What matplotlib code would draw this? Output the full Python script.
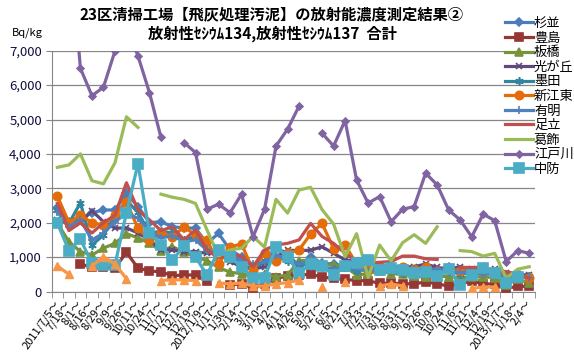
import numpy as np
import matplotlib
matplotlib.use('Agg')
from matplotlib import pyplot as plt
from matplotlib.ticker import FuncFormatter

# 日本語フォント
plt.rcParams['font.family'] = ['Noto Sans CJK JP', 'DejaVu Sans']

dates = ['2011/7/5～', '7/18～', '8/1～', '8/16～', '8/29～', '9/9～', '9/26～', '10/11～',
         '10/24～', '11/7～', '11/21～', '12/1～', '12/19～', '2012/1/9～', '1/17～', '1/30～',
         '2/14～', '3/1～', '3/10～', '4/2～', '4/11～', '4/26～', '5/9～', '5/27～', '6/5～',
         '6/21～', '7/3～', '7/23～', '7/31～', '8/15～', '8/31～', '9/11～', '9/26～', '10/9～',
         '10/24～', '11/6～', '11/21～', '12/4～', '12/19～', '2013/1/7～', '1/18～', '2/4～']

suginami = [2420, 2030, 2130, 2290, 2370, 2370, 2850, 2470, 2000, 2030,
            1880, 1850, 1840, 1400, 1690, 1210, 1010, 720, 820, 1260,
            1110, 720, 1010, 820, 800, 740, 670, 700, 620, 650,
            640, 620, 720, 620, 720, 620, 580, 620, 580, 380, 480, 430]
toshima = [None, None, 800, 700, 710, 680, 1140, 680, 600, 570,
           460, 480, 480, 310, None, 190, 230, 100, 230, 380,
           450, 480, 500, 420, 380, 350, 320, 310, 240, 240,
           230, 220, 280, 220, 160, 220, 310, 220, 220, 90, 150, 150]
itabashi = [1980, 1450, 1160, 1060, 1260, 1400, 1680, 1560, 1400, 1190,
            1300, 1150, 1000, 900, 700, 560, 520, 430, 500, 430,
            480, 900, 900, 770, 770, 720, 480, 520, 600, 520,
            500, 450, 420, 450, 430, 400, 420, 430, 400, 200, 350, 250]
hikarigaoka = [2080, 2000, 2000, 2350, 2030, 1840, 1850, 1700, 1500, 1210,
               1210, 1160, 1160, 1110, 1110, 870, 720, 650, 720, 1010,
               1200, 1190, 1200, 1300, 1110, 920, 870, 720, 750, 700,
               720, 720, 800, 700, 650, 720, 650, 600, 650, 550, 500, 480]
sumida = [2370, 1980, 2580, 1350, 1640, 2200, 2650, 2300, 1700, 1750,
          1700, 1500, 1600, 1200, 1100, 950, 800, 650, 900, 1000,
          900, 800, 750, 700, 650, 700, 600, 650, 600, 600,
          550, 600, 650, 600, 600, 500, 550, 600, 550, 450, 500, 450]
shinkoto = [2770, 2000, 2220, 2000, 1930, 2220, 2600, 1840, 1500, 1690,
            1590, 1880, 1640, 1500, 800, 1300, 1380, 620, 1110, 900,
            1110, 1210, 1670, 1980, 1250, 1350, 800, 620, 700, 650,
            700, 650, 700, 600, 650, 600, 500, 600, 550, 400, 450, 400]
ariake = [2320, 1880, 2080, 1500, 1690, 2030, 2270, 2130, 1750, 1560,
          1620, 1450, 1500, 1200, 1100, 1000, 900, 800, 850, 1050,
          950, 800, 850, 700, 650, 700, 650, 600, 700, 650,
          600, 650, 600, 650, 600, 550, 550, 500, 520, 400, 450, 400]
adachi = [2560, 1770, 2000, 1700, 2000, 2220, 3160, 2370, 2080, 1770,
          1880, 1500, 1790, 1200, 980, 1080, 1030, 720, 1210, 1350,
          1400, 1500, 1980, 1600, 1400, 1110, 870, 820, 850, 870,
          1030, 1030, 950, 930, None, 700, 700, 700, 600, 580, 500, 390]
katsushika = [3610, 3680, 4000, 3220, 3130, 3740, 5080, 4770, None, 2830,
              2740, 2680, 2560, 1790, 1030, 1210, 1260, 1600, 1290, 2680,
              2280, 2950, 3030, 2380, 1960, 1010, 1680, 410, 1350, 890,
              1420, 1650, 1400, 1880, None, 1190, 1160, 1030, 1110, 384, 650, 720]
edogawa = [10000, 10400, 6490, 5690, 5940, 6990, 7700, 6850, 5780, 4480,
           None, 4330, 4040, 2390, 2540, 2290, 2830, 1590, 2390, 4230,
           4720, 5390, None, 4600, 4230, 4970, 3240, 2570, 2760, 2030,
           2390, 2470, 3440, 3100, 2370, 2080, 1590, 2250, 2060, 870, 1190, 1110]
chubou = [1980, 1190, 1520, 820, 770, 770, 2290, 3710, 1710, 1350,
          920, 1320, 1000, 480, 1200, 1000, 720, 390, 390, 1290,
          1010, 530, 800, 740, 480, 740, 820, 920, 630, 670,
          630, 530, 580, 450, 650, 190, 480, 670, 530, 240, 430, None]
# 凡例に出ていない系列（オレンジ三角）
other = [740, 500, None, 740, 1010, 800, 370, None, None, 320,
         340, 340, 310, None, 250, 220, 250, 160, 160, 220,
         260, 330, None, 130, None, 280, None, None, 160, 220,
         160, None, None, None, None, None, 90, 130, 130, None, None, None]

series = [
    ('杉並', suginami, '#4A7EBB', 'D', 4.5),
    ('豊島', toshima, '#953735', 's', 6),
    ('板橋', itabashi, '#77933C', '^', 6),
    ('光が丘', hikarigaoka, '#604A7B', 'x', 5),
    ('墨田', sumida, '#31859C', (6, 2, 0), 6),
    ('新江東', shinkoto, '#E46C0A', 'o', 6),
    ('有明', ariake, '#4F81BD', '+', 6),
    ('足立', adachi, '#C0504D', None, 0),
    ('葛飾', katsushika, '#9BBB59', None, 0),
    ('江戸川', edogawa, '#8064A2', 'D', 3.5),
    ('中防', chubou, '#4BACC6', 's', 6.5),
]

x = np.arange(len(dates))
fig = plt.figure(figsize=(5.74, 3.61), dpi=100)
ax = fig.add_axes([0.090, 0.1925, 0.842, 0.667])

handles = []
for name, vals, c, m, ms in series:
    y = np.array(vals, dtype=float)
    h, = ax.plot(x, y, color=c, lw=2.3, marker=m, ms=ms, mew=1.2, label=name, zorder=3)
    handles.append(h)
ax.plot(x, np.array(other, dtype=float), color='#F79646', lw=2.3, marker='^', ms=6, zorder=3)

ax.set_xlim(-0.5, len(dates) - 0.5)
ax.set_ylim(0, 7000)
ax.set_yticks(range(0, 7001, 1000))
ax.yaxis.set_major_formatter(FuncFormatter(lambda v, p: f'{int(v):,}'))
ax.tick_params(axis='y', labelsize=9.5, length=4, color='#868686', labelcolor='#101040', pad=3)
ax.set_xticks(x)
ax.set_xticklabels(dates, rotation=55, ha='right', va='center', rotation_mode='anchor', fontsize=8)
ax.tick_params(axis='x', length=0, pad=7)
ax.set_xticks(np.arange(-0.5, len(dates)), minor=True)
ax.tick_params(axis='x', which='minor', length=4, color='#868686')
ax.grid(axis='y', color='#868686', lw=0.9, zorder=0)
for s in ['top', 'right']:
    ax.spines[s].set_visible(False)
ax.spines['left'].set_color('#868686')
ax.spines['bottom'].set_color('#868686')

fig.text(272 / 574, 1 - 14 / 361, '23区清掃工場【飛灰処理汚泥】の放射能濃度測定結果②',
         ha='center', va='center', fontsize=11, fontweight='bold')
fig.text(272 / 574, 1 - 34 / 361, '放射性ｾｼｳﾑ134,放射性ｾｼｳﾑ137  合計',
         ha='center', va='center', fontsize=11, fontweight='bold')
fig.text(27 / 574, 1 - 33 / 361, 'Bq/kg', ha='center', va='center', fontsize=8)

fig.legend(handles=handles, loc='upper left', bbox_to_anchor=(505 / 574, 1 - 17 / 361),
           frameon=False, fontsize=9.5, handlelength=2.1, handletextpad=0.1,
           labelspacing=0.12, borderpad=0, borderaxespad=0, numpoints=1)

plt.savefig('out.png')
